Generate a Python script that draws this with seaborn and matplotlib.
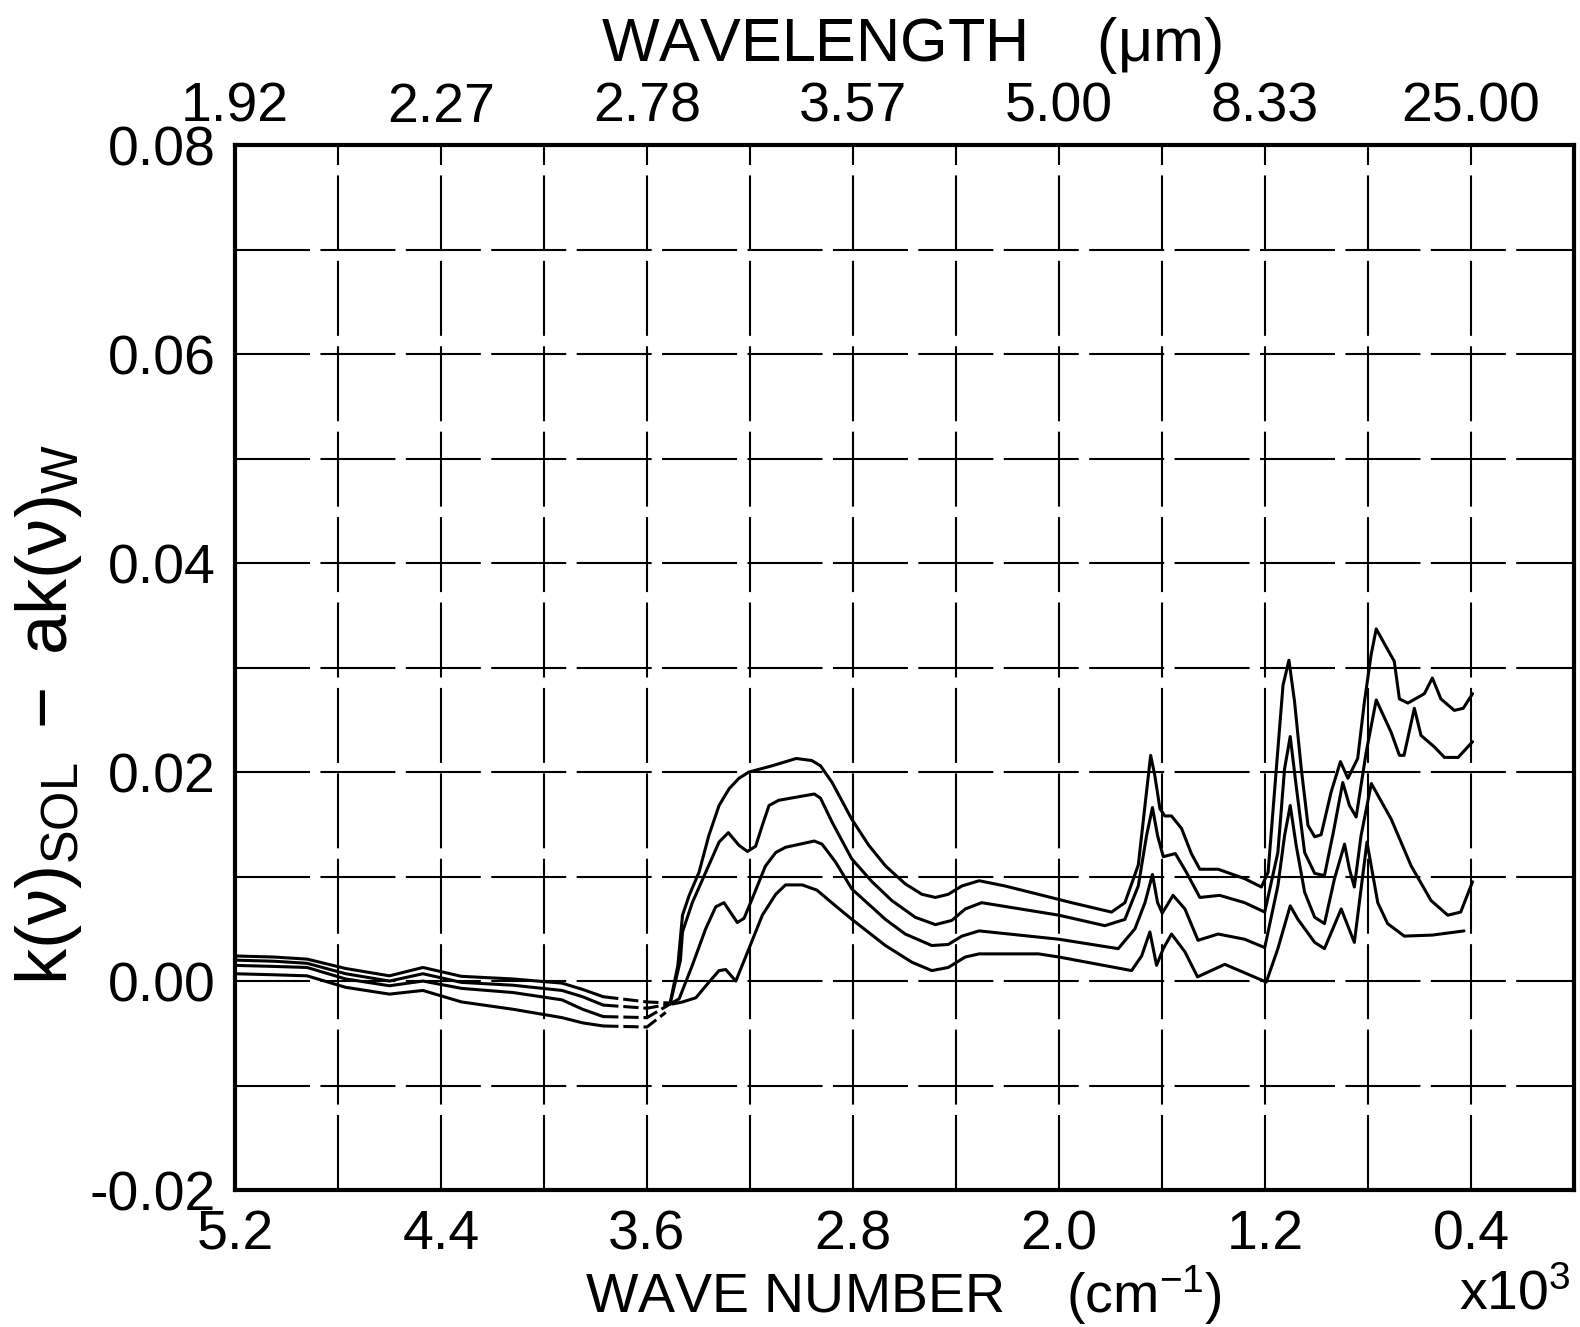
import numpy as np
import pandas as pd
import matplotlib
matplotlib.use("Agg")
import matplotlib.pyplot as plt
import seaborn as sns

# ---- spectra: wave number (x10^3 cm^-1) and k(v)_SOL - a k(v)_W ----
x1 = [5.2, 5.05, 4.92, 4.77, 4.6, 4.47, 4.32, 4.12, 3.93, 3.85, 3.77, 3.6, 3.51,
      3.48, 3.462, 3.436, 3.398, 3.36, 3.32, 3.281, 3.243, 3.204, 3.114, 3.02,
      2.96, 2.926, 2.881, 2.805, 2.739, 2.673, 2.597, 2.532, 2.48, 2.43, 2.377,
      2.31, 2.21, 2.08, 1.951, 1.796, 1.744, 1.692, 1.666, 1.644, 1.628, 1.608,
      1.589, 1.563, 1.524, 1.486, 1.453, 1.382, 1.279, 1.214, 1.188, 1.156,
      1.13, 1.107, 1.085, 1.059, 1.033, 1.007, 0.982, 0.943, 0.907, 0.878, 0.84,
      0.814, 0.788, 0.768, 0.73, 0.698, 0.678, 0.645, 0.581, 0.55, 0.517, 0.465,
      0.43, 0.394]
y1 = [0.0024, 0.0023, 0.0021, 0.0012, 0.0005, 0.0013, 0.00045, 0.0002, -0.0002,
      -0.0008, -0.0015, -0.0020, -0.0021, 0.0015, 0.0063, 0.0082, 0.0104, 0.0139,
      0.0168, 0.0184, 0.0194, 0.0200, 0.0206, 0.0213, 0.0211, 0.0206, 0.0190,
      0.0155, 0.0130, 0.0110, 0.0093, 0.0083, 0.0080, 0.0083, 0.0091, 0.0096,
      0.0091, 0.0083, 0.0075, 0.0066, 0.0075, 0.0111, 0.0168, 0.0216, 0.0197,
      0.0165, 0.0158, 0.0158, 0.0146, 0.0122, 0.0107, 0.0107, 0.0098, 0.0090,
      0.0104, 0.0203, 0.0283, 0.0307, 0.0267, 0.0203, 0.0149, 0.0138, 0.0140,
      0.0181, 0.0210, 0.0194, 0.0213, 0.0267, 0.0312, 0.0337, 0.0320, 0.0306,
      0.0270, 0.0266, 0.0275, 0.0290, 0.0270, 0.0259, 0.0261, 0.0275]

x2 = [5.2, 5.05, 4.92, 4.77, 4.6, 4.47, 4.32, 4.12, 3.93, 3.85, 3.77, 3.6, 3.51,
      3.47, 3.462, 3.424, 3.372, 3.32, 3.284, 3.243, 3.21, 3.178, 3.152, 3.126,
      3.088, 2.95, 2.926, 2.881, 2.805, 2.726, 2.649, 2.558, 2.48, 2.416, 2.364,
      2.30, 2.0, 1.822, 1.744, 1.692, 1.66, 1.637, 1.617, 1.595, 1.548, 1.505,
      1.453, 1.376, 1.279, 1.201, 1.15, 1.124, 1.102, 1.079, 1.046, 1.007,
      0.969, 0.934, 0.898, 0.872, 0.846, 0.807, 0.768, 0.71, 0.678, 0.66, 0.62,
      0.594, 0.542, 0.503, 0.45, 0.394]
y2 = [0.0020, 0.0019, 0.0017, 0.0007, 0.0000, 0.0007, -0.00013, -0.0004, -0.0009,
      -0.0015, -0.0023, -0.0026, -0.0022, 0.0020, 0.0047, 0.0075, 0.0104, 0.0133,
      0.0142, 0.0130, 0.0124, 0.0129, 0.0149, 0.0168, 0.0173, 0.0179, 0.0175,
      0.0152, 0.0117, 0.0095, 0.0077, 0.0061, 0.0054, 0.0058, 0.0069, 0.0075,
      0.0063, 0.0053, 0.0059, 0.0091, 0.0139, 0.0166, 0.0139, 0.0119, 0.0122,
      0.0104, 0.0080, 0.0082, 0.0075, 0.0066, 0.0123, 0.0203, 0.0234, 0.0187,
      0.0123, 0.0103, 0.0101, 0.0143, 0.0190, 0.0168, 0.0157, 0.0219, 0.0269,
      0.0238, 0.0216, 0.0216, 0.0261, 0.0235, 0.0224, 0.0214, 0.0214, 0.0229]

x3 = [5.2, 5.05, 4.92, 4.77, 4.6, 4.47, 4.32, 4.12, 3.93, 3.85, 3.77, 3.6, 3.51,
      3.475, 3.424, 3.372, 3.333, 3.301, 3.249, 3.223, 3.191, 3.14, 3.10, 3.062,
      2.95, 2.92, 2.868, 2.804, 2.674, 2.597, 2.494, 2.43, 2.377, 2.31, 2.0,
      1.77, 1.705, 1.666, 1.637, 1.617, 1.599, 1.557, 1.511, 1.46, 1.382, 1.279,
      1.201, 1.15, 1.124, 1.102, 1.079, 1.046, 1.007, 0.969, 0.93, 0.891, 0.872,
      0.853, 0.827, 0.787, 0.71, 0.632, 0.555, 0.49, 0.44, 0.394]
y3 = [0.0015, 0.0014, 0.0013, 0.0002, -0.00045, 0.0000, -0.0007, -0.0011, -0.0018,
      -0.0027, -0.0034, -0.0035, -0.0022, -0.0017, 0.0015, 0.0050, 0.0071, 0.0075,
      0.0056, 0.0060, 0.0079, 0.0110, 0.0123, 0.0128, 0.0134, 0.0131, 0.0114,
      0.0088, 0.0059, 0.0045, 0.0034, 0.0035, 0.0043, 0.0048, 0.0040, 0.0031,
      0.0050, 0.0075, 0.0102, 0.0075, 0.0065, 0.0082, 0.0069, 0.0039, 0.0045,
      0.0040, 0.0032, 0.0091, 0.0139, 0.0168, 0.0130, 0.0085, 0.0061, 0.0055,
      0.0098, 0.0131, 0.0107, 0.0090, 0.0139, 0.0189, 0.0155, 0.0110, 0.0077,
      0.0063, 0.0066, 0.0095]

x4 = [5.2, 5.05, 4.92, 4.77, 4.6, 4.47, 4.32, 4.12, 3.93, 3.85, 3.77, 3.6, 3.527,
      3.501, 3.462, 3.41, 3.359, 3.32, 3.294, 3.255, 3.217, 3.152, 3.10, 3.062,
      2.997, 2.94, 2.868, 2.804, 2.674, 2.571, 2.494, 2.43, 2.364, 2.31, 2.08,
      2.0, 1.718, 1.679, 1.647, 1.621, 1.595, 1.563, 1.511, 1.462, 1.356, 1.195,
      1.15, 1.102, 1.072, 1.007, 0.969, 0.904, 0.853, 0.804, 0.762, 0.724, 0.659,
      0.55, 0.427]
y4 = [0.0007, 0.0006, 0.0005, -0.0006, -0.00125, -0.0009, -0.0020, -0.0027,
      -0.0035, -0.0040, -0.0043, -0.0044, -0.0030, -0.0022, -0.0020, -0.0016,
      -0.0001, 0.0010, 0.0011, 0.0000, 0.0023, 0.0063, 0.0083, 0.0092, 0.0092,
      0.0087, 0.0072, 0.0059, 0.0034, 0.0018, 0.0010, 0.0013, 0.0023, 0.0026,
      0.0026, 0.0023, 0.0010, 0.0024, 0.0047, 0.0015, 0.0031, 0.0045, 0.0028,
      0.0004, 0.0016, -0.0001, 0.0031, 0.0072, 0.0059, 0.0037, 0.0031, 0.0069,
      0.0037, 0.0133, 0.0075, 0.0055, 0.0043, 0.0044, 0.0048]

curves = [(x1, y1), (x2, y2), (x3, y3), (x4, y4)]

# wave-number interval where the traces were drawn broken
dash_start, dash_end = 3.77, 3.51

bottom_ticks = [5.2, 4.4, 3.6, 2.8, 2.0, 1.2, 0.4]
y_ticks = [-0.02, 0.00, 0.02, 0.04, 0.06, 0.08]

# ---- style ----
sns.set_style("white")
plt.rcParams["font.family"] = ["Liberation Sans", "DejaVu Sans"]
plt.rcParams["mathtext.fontset"] = "custom"
plt.rcParams["mathtext.rm"] = "Liberation Sans"
plt.rcParams["mathtext.it"] = "Liberation Sans"
plt.rcParams["mathtext.default"] = "regular"
for key in ("text.color", "axes.labelcolor", "xtick.color", "ytick.color"):
    plt.rcParams[key] = "black"

fig = plt.figure(figsize=(15.8, 13.27), dpi=100)
ax = fig.add_axes([0.1487, 0.1032, 0.8475, 0.7875])

LW = 2.2
for xs, ys in curves:
    df = pd.DataFrame({"wn": xs, "val": ys})
    solid_a = df[df.wn >= dash_start]
    dashed = df[(df.wn <= dash_start) & (df.wn >= dash_end)]
    solid_b = df[df.wn <= dash_end]
    for part, ls in ((solid_a, "-"), (dashed, (0, (5, 1.6))), (solid_b, "-")):
        sns.lineplot(data=part, x="wn", y="val", ax=ax, color="black",
                     linewidth=LW, linestyle=ls, sort=False, estimator=None,
                     legend=False)

ax.set_xlim(5.2, 0.0)
ax.set_ylim(-0.02, 0.08)

ax.set_xticks(bottom_ticks)
ax.set_xticklabels([f"{t:.1f}" for t in bottom_ticks])
ax.set_xticks(np.arange(0.4, 5.2, 0.4), minor=True)
ax.set_yticks(y_ticks)
ax.set_yticklabels([f"{t:.2f}" for t in y_ticks])
ax.set_yticks(np.arange(-0.01, 0.08, 0.02), minor=True)

grid_kw = dict(color="black", linewidth=1.5, linestyle=(0, (36, 5)))
ax.grid(True, which="both", **grid_kw)
ax.set_axisbelow(True)

for sp in ax.spines.values():
    sp.set_linewidth(3.0)
    sp.set_color("black")

ax.tick_params(axis="x", which="both", length=0, pad=14, labelsize=40)
ax.tick_params(axis="y", which="major", direction="out", length=8, width=1.5,
               pad=6, labelsize=40)
ax.tick_params(axis="y", which="minor", direction="out", length=8, width=1.5)

ax.set_xlabel("")
ax.set_ylabel(r"$k(\nu)_{SOL}\ -\ ak(\nu)_{W}$", fontsize=52)
ax.yaxis.set_label_coords(-0.113, 0.455)

# wavelength scale along the top edge
ax2 = ax.twiny()
ax2.set_xlim(ax.get_xlim())
ax2.set_xticks(bottom_ticks)
ax2.set_xticklabels([f"{10.0 / t:.2f}" for t in bottom_ticks])
ax2.tick_params(axis="x", length=0, pad=8, labelsize=40)
for sp in ax2.spines.values():
    sp.set_visible(False)

fig.text(0.577, 0.966, r"WAVELENGTH    ($\mu$m)", ha="center", va="center",
         fontsize=44)
fig.text(0.572, 0.011, r"WAVE NUMBER    (cm$^{-1}$)", ha="center",
         va="baseline", fontsize=40)
fig.text(0.994, 0.013, r"x10$^{3}$", ha="right", va="baseline", fontsize=40)

fig.savefig("out.png", dpi=100, facecolor="white")
